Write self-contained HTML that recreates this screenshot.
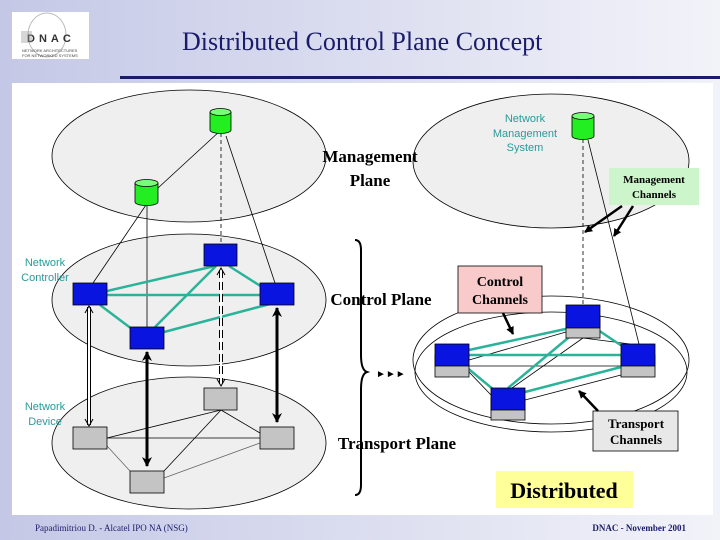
<!DOCTYPE html>
<html><head><meta charset="utf-8"><style>
html,body{margin:0;padding:0;width:720px;height:540px;overflow:hidden}
</style></head><body>
<svg width="720" height="540" viewBox="0 0 720 540" xmlns="http://www.w3.org/2000/svg" font-family="Liberation Serif, serif">
<defs>
<linearGradient id="bg" x1="0" x2="1" y1="0" y2="0"><stop offset="0" stop-color="#c4c8e6"/><stop offset="1" stop-color="#f2f3f9"/></linearGradient>
<marker id="ah" markerWidth="8" markerHeight="8" refX="7" refY="4" orient="auto" markerUnits="userSpaceOnUse"><path d="M0,0 L8,4 L0,8 z" fill="#000"/></marker>
<marker id="ahs" markerWidth="10" markerHeight="10" refX="9" refY="5" orient="auto-start-reverse" markerUnits="userSpaceOnUse"><path d="M0,0 L10,5 L0,10 L3,5 z" fill="#000"/></marker>
</defs>
<rect width="720" height="540" fill="url(#bg)"/>
<!-- logo -->
<rect x="12" y="12" width="77" height="47" fill="#fff"/>
<ellipse cx="47" cy="35" rx="19" ry="22" fill="none" stroke="#bbb"/>
<text x="27" y="42" font-family="Liberation Sans, sans-serif" font-size="11" font-weight="bold" fill="#333" letter-spacing="4">DNAC</text>
<rect x="21" y="31" width="11" height="12" fill="#999" opacity="0.4"/>
<text x="22" y="52" font-family="Liberation Sans, sans-serif" font-size="4" fill="#444">NETWORK ARCHITECTURES</text>
<text x="22" y="57" font-family="Liberation Sans, sans-serif" font-size="4" fill="#444">FOR NETWORKED SYSTEMS</text>
<text x="182" y="50" font-size="26" fill="#1b1b6b">Distributed Control Plane Concept</text>
<rect x="120" y="76" width="600" height="3" fill="#1b1b6b"/>
<rect x="12" y="83" width="701" height="432" fill="#fff"/>

<!-- ellipses -->
<g fill="#efefef" stroke="#000" stroke-width="0.8">
<ellipse cx="189" cy="156" rx="137" ry="66"/>
<ellipse cx="189" cy="300" rx="137" ry="66"/>
<ellipse cx="189" cy="443" rx="137" ry="66"/>
<ellipse cx="551" cy="161" rx="138" ry="67"/>
</g>
<ellipse cx="551" cy="360" rx="138" ry="64" fill="#fff" stroke="#000" stroke-width="0.8"/>
<ellipse cx="551" cy="372" rx="136" ry="60" fill="none" stroke="#000" stroke-width="0.8"/>
<!-- left thin lines -->
<g stroke="#000" stroke-width="0.8" fill="none">
<line x1="158" y1="188" x2="221" y2="130"/>
<line x1="146" y1="205" x2="93" y2="283"/>
<line x1="147" y1="205" x2="147" y2="327"/>
<line x1="226" y1="136" x2="275" y2="283"/>
<line x1="221" y1="133" x2="221" y2="244" stroke-dasharray="4,3"/>
<line x1="107" y1="438" x2="221" y2="410"/>
<line x1="107" y1="438" x2="260" y2="438"/>
<line x1="221" y1="410" x2="164" y2="471"/>
<line x1="221" y1="410" x2="260" y2="433"/>
<line x1="164" y1="478" x2="260" y2="443" stroke="#666"/>
<line x1="107" y1="446" x2="130" y2="471" stroke="#666"/>
</g>
<!-- teal -->
<g stroke="#2bb39a" stroke-width="2.5">
<line x1="107" y1="291" x2="215" y2="266"/>
<line x1="107" y1="295" x2="260" y2="295"/>
<line x1="100" y1="305" x2="132" y2="329"/>
<line x1="164" y1="332" x2="270" y2="304"/>
<line x1="155" y1="327" x2="216" y2="266"/>
<line x1="229" y1="266" x2="262" y2="287"/>
</g>
<!-- arrows between planes -->
<g stroke="#000" fill="none">
<line x1="89" y1="307" x2="89" y2="425" stroke-width="4"/>
<line x1="89" y1="307" x2="89" y2="425" stroke="#fff" stroke-width="2"/>
<line x1="221" y1="270" x2="221" y2="384" stroke-width="4" stroke-dasharray="8,4"/>
<line x1="221" y1="270" x2="221" y2="384" stroke="#fff" stroke-width="2"/>
<line x1="147" y1="352" x2="147" y2="466" stroke-width="3" marker-start="url(#ahs)" marker-end="url(#ahs)"/>
<line x1="277" y1="308" x2="277" y2="422" stroke-width="3" marker-start="url(#ahs)" marker-end="url(#ahs)"/>
</g>
<path d="M85,313 L89,306 L93,313 M85,419 L89,426 L93,419 M217,275 L221,268 L225,275 M217,379 L221,386 L225,379" stroke="#000" fill="none"/>
<!-- cylinders -->
<g fill="#22ee22" stroke="#000" stroke-width="0.8">
<path d="M210,112 v18 a10.5,3.5 0 0 0 21,0 v-18"/><ellipse cx="220.5" cy="112" rx="10.5" ry="3.5" fill="#77ff77"/>
<path d="M135,183 v19 a11.5,3.5 0 0 0 23,0 v-19"/><ellipse cx="146.5" cy="183" rx="11.5" ry="3.5" fill="#77ff77"/>
<path d="M572,116 v20 a11,3.5 0 0 0 22,0 v-20"/><ellipse cx="583" cy="116" rx="11" ry="3.5" fill="#77ff77"/>
</g>
<!-- boxes left -->
<g fill="#0a14e0" stroke="#000" stroke-width="0.8">
<rect x="204" y="244" width="33" height="22"/><rect x="73" y="283" width="34" height="22"/>
<rect x="260" y="283" width="34" height="22"/><rect x="130" y="327" width="34" height="22"/>
</g>
<g fill="#c4c4c4" stroke="#000" stroke-width="0.8">
<rect x="204" y="388" width="33" height="22"/><rect x="73" y="427" width="34" height="22"/>
<rect x="260" y="427" width="34" height="22"/><rect x="130" y="471" width="34" height="22"/>
</g>
<g font-family="Liberation Sans, sans-serif" font-size="11" fill="#2a9a9a" text-anchor="middle">
<text x="45" y="266">Network</text><text x="45" y="281">Controller</text>
<text x="45" y="410">Network</text><text x="45" y="425">Device</text>
<text x="525" y="122">Network</text><text x="525" y="137">Management</text><text x="525" y="151">System</text>
</g>
<g font-size="17" font-weight="bold" text-anchor="middle">
<text x="370" y="162">Management</text><text x="370" y="186">Plane</text>
<text x="381" y="305">Control Plane</text>
<text x="397" y="449">Transport Plane</text>
</g>
<!-- brace -->
<path d="M355,240 q6,0 6,10 v105 q0,15 6,17 q-6,2 -6,17 v96 q0,10 -6,10" fill="none" stroke="#000" stroke-width="2"/>
<text x="376" y="377" font-size="10">&#9658;&#9658;&#9658;</text>

<!-- right -->
<g stroke="#000" stroke-width="0.8" fill="none">
<line x1="583" y1="139" x2="583" y2="305" stroke-dasharray="4,3"/>
<line x1="588" y1="140" x2="639" y2="344"/>
<line x1="469" y1="360" x2="566" y2="332"/>
<line x1="469" y1="366" x2="621" y2="366"/>
<line x1="469" y1="372" x2="491" y2="395"/>
<line x1="525" y1="400" x2="621" y2="375"/>
<line x1="583" y1="338" x2="512" y2="388"/>
<line x1="583" y1="338" x2="630" y2="344"/>
</g>
<g stroke="#2bb39a" stroke-width="2.5">
<line x1="469" y1="350" x2="570" y2="328"/>
<line x1="469" y1="355" x2="621" y2="355"/>
<line x1="465" y1="366" x2="494" y2="390"/>
<line x1="525" y1="392" x2="625" y2="366"/>
<line x1="508" y1="388" x2="580" y2="328"/>
<line x1="595" y1="328" x2="625" y2="348"/>
</g>
<g fill="#c4c4c4" stroke="#000" stroke-width="0.8">
<rect x="566" y="316" width="34" height="22"/><rect x="435" y="355" width="34" height="22"/>
<rect x="621" y="355" width="34" height="22"/><rect x="491" y="398" width="34" height="22"/>
</g>
<g fill="#0a14e0" stroke="#000" stroke-width="0.8">
<rect x="566" y="305" width="34" height="23"/><rect x="435" y="344" width="34" height="22"/>
<rect x="621" y="344" width="34" height="22"/><rect x="491" y="388" width="34" height="22"/>
</g>
<!-- callouts -->
<rect x="609" y="168" width="90" height="37" fill="#ccf5cc"/>
<text x="654" y="183" font-size="11" font-weight="bold" text-anchor="middle">Management</text>
<text x="654" y="198" font-size="11" font-weight="bold" text-anchor="middle">Channels</text>
<g stroke="#000" stroke-width="2.5" marker-end="url(#ah)">
<line x1="622" y1="206" x2="585" y2="232"/>
<line x1="633" y1="206" x2="614" y2="236"/>
</g>
<rect x="458" y="266" width="84" height="47" fill="#f8caca" stroke="#000" stroke-width="0.8"/>
<text x="500" y="286" font-size="14" font-weight="bold" text-anchor="middle">Control</text>
<text x="500" y="304" font-size="14" font-weight="bold" text-anchor="middle">Channels</text>
<line x1="503" y1="313" x2="513" y2="334" stroke="#000" stroke-width="2.5" marker-end="url(#ah)"/>
<rect x="593" y="411" width="85" height="40" fill="#e8e8e8" stroke="#000" stroke-width="0.8"/>
<text x="636" y="428" font-size="13" font-weight="bold" text-anchor="middle">Transport</text>
<text x="636" y="444" font-size="13" font-weight="bold" text-anchor="middle">Channels</text>
<line x1="598" y1="411" x2="579" y2="391" stroke="#000" stroke-width="2.5" marker-end="url(#ah)"/>
<rect x="496" y="471" width="137" height="37" fill="#ffff99"/>
<text x="564" y="498" font-size="22" font-weight="bold" text-anchor="middle">Distributed</text>
<!-- footer -->
<text x="35" y="531" font-size="9" fill="#1b1b6b">Papadimitriou D. - Alcatel IPO NA (NSG)</text>
<text x="686" y="531" font-size="9" fill="#1b1b6b" text-anchor="end" font-weight="bold">DNAC - November 2001</text>
</svg>
</body></html>
